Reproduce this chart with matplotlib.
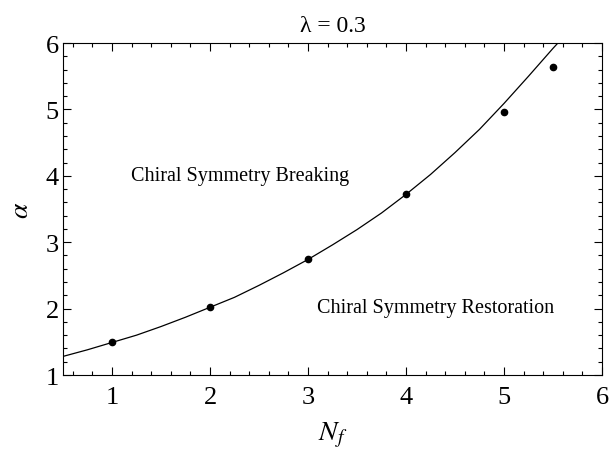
import matplotlib
matplotlib.use("Agg")
import matplotlib.pyplot as plt
from matplotlib.ticker import MultipleLocator

# data points
nf_points = [1, 2, 3, 4, 5, 5.5]
alpha_points = [1.50, 2.02, 2.74, 3.72, 4.96, 5.64]

# curve
nf_curve = [0.5, 0.75, 1.0, 1.25, 1.5, 1.75, 2.0, 2.25, 2.5, 2.75, 3.0, 3.25,
            3.5, 3.75, 4.0, 4.25, 4.5, 4.75, 5.0, 5.25, 5.5, 5.55]
alpha_curve = [1.28, 1.38, 1.49, 1.60, 1.73, 1.87, 2.02, 2.17, 2.35, 2.54, 2.74, 2.96,
               3.19, 3.44, 3.72, 4.02, 4.35, 4.70, 5.09, 5.50, 5.92, 6.0]

xticks = [1, 2, 3, 4, 5, 6]
yticks = [1, 2, 3, 4, 5, 6]

plt.rcParams['font.family'] = ['Liberation Serif', 'DejaVu Serif']
plt.rcParams['mathtext.fontset'] = 'stix'

fig = plt.figure(figsize=(6.11, 4.60), dpi=100)
ax = fig.add_axes([0.1031, 0.1826, 0.8822, 0.7217])

ax.plot(nf_curve, alpha_curve, color='black', lw=0.9, solid_joinstyle='round')
ax.plot(nf_points, alpha_points, 'o', color='black', markersize=4.5)

ax.set_xlim(0.5, 6)
ax.set_ylim(1, 6)
ax.set_xticks(xticks)
ax.set_yticks(yticks)
ax.xaxis.set_minor_locator(MultipleLocator(0.2))
ax.yaxis.set_minor_locator(MultipleLocator(0.2))
ax.tick_params(which='both', direction='in', top=True, right=True, labelsize=19, width=0.8)
ax.tick_params(which='major', length=6)
ax.tick_params(which='minor', length=3)
ax.tick_params(axis='x', which='major', pad=8)
ax.tick_params(axis='y', which='major', pad=3)
for s in ax.spines.values():
    s.set_linewidth(0.8)

ax.set_xlabel(r'$N_f$', fontsize=20, labelpad=8)
ax.set_ylabel(r'$\alpha$', fontsize=20, labelpad=8)
ax.set_title('λ = 0.3', fontsize=17, pad=9)

ax.text(1.19, 4.01, 'Chiral Symmetry Breaking', fontsize=14.5, va='center', ha='left')
ax.text(3.09, 2.02, 'Chiral Symmetry Restoration', fontsize=14.5, va='center', ha='left')

fig.savefig('out.png', dpi=100)
